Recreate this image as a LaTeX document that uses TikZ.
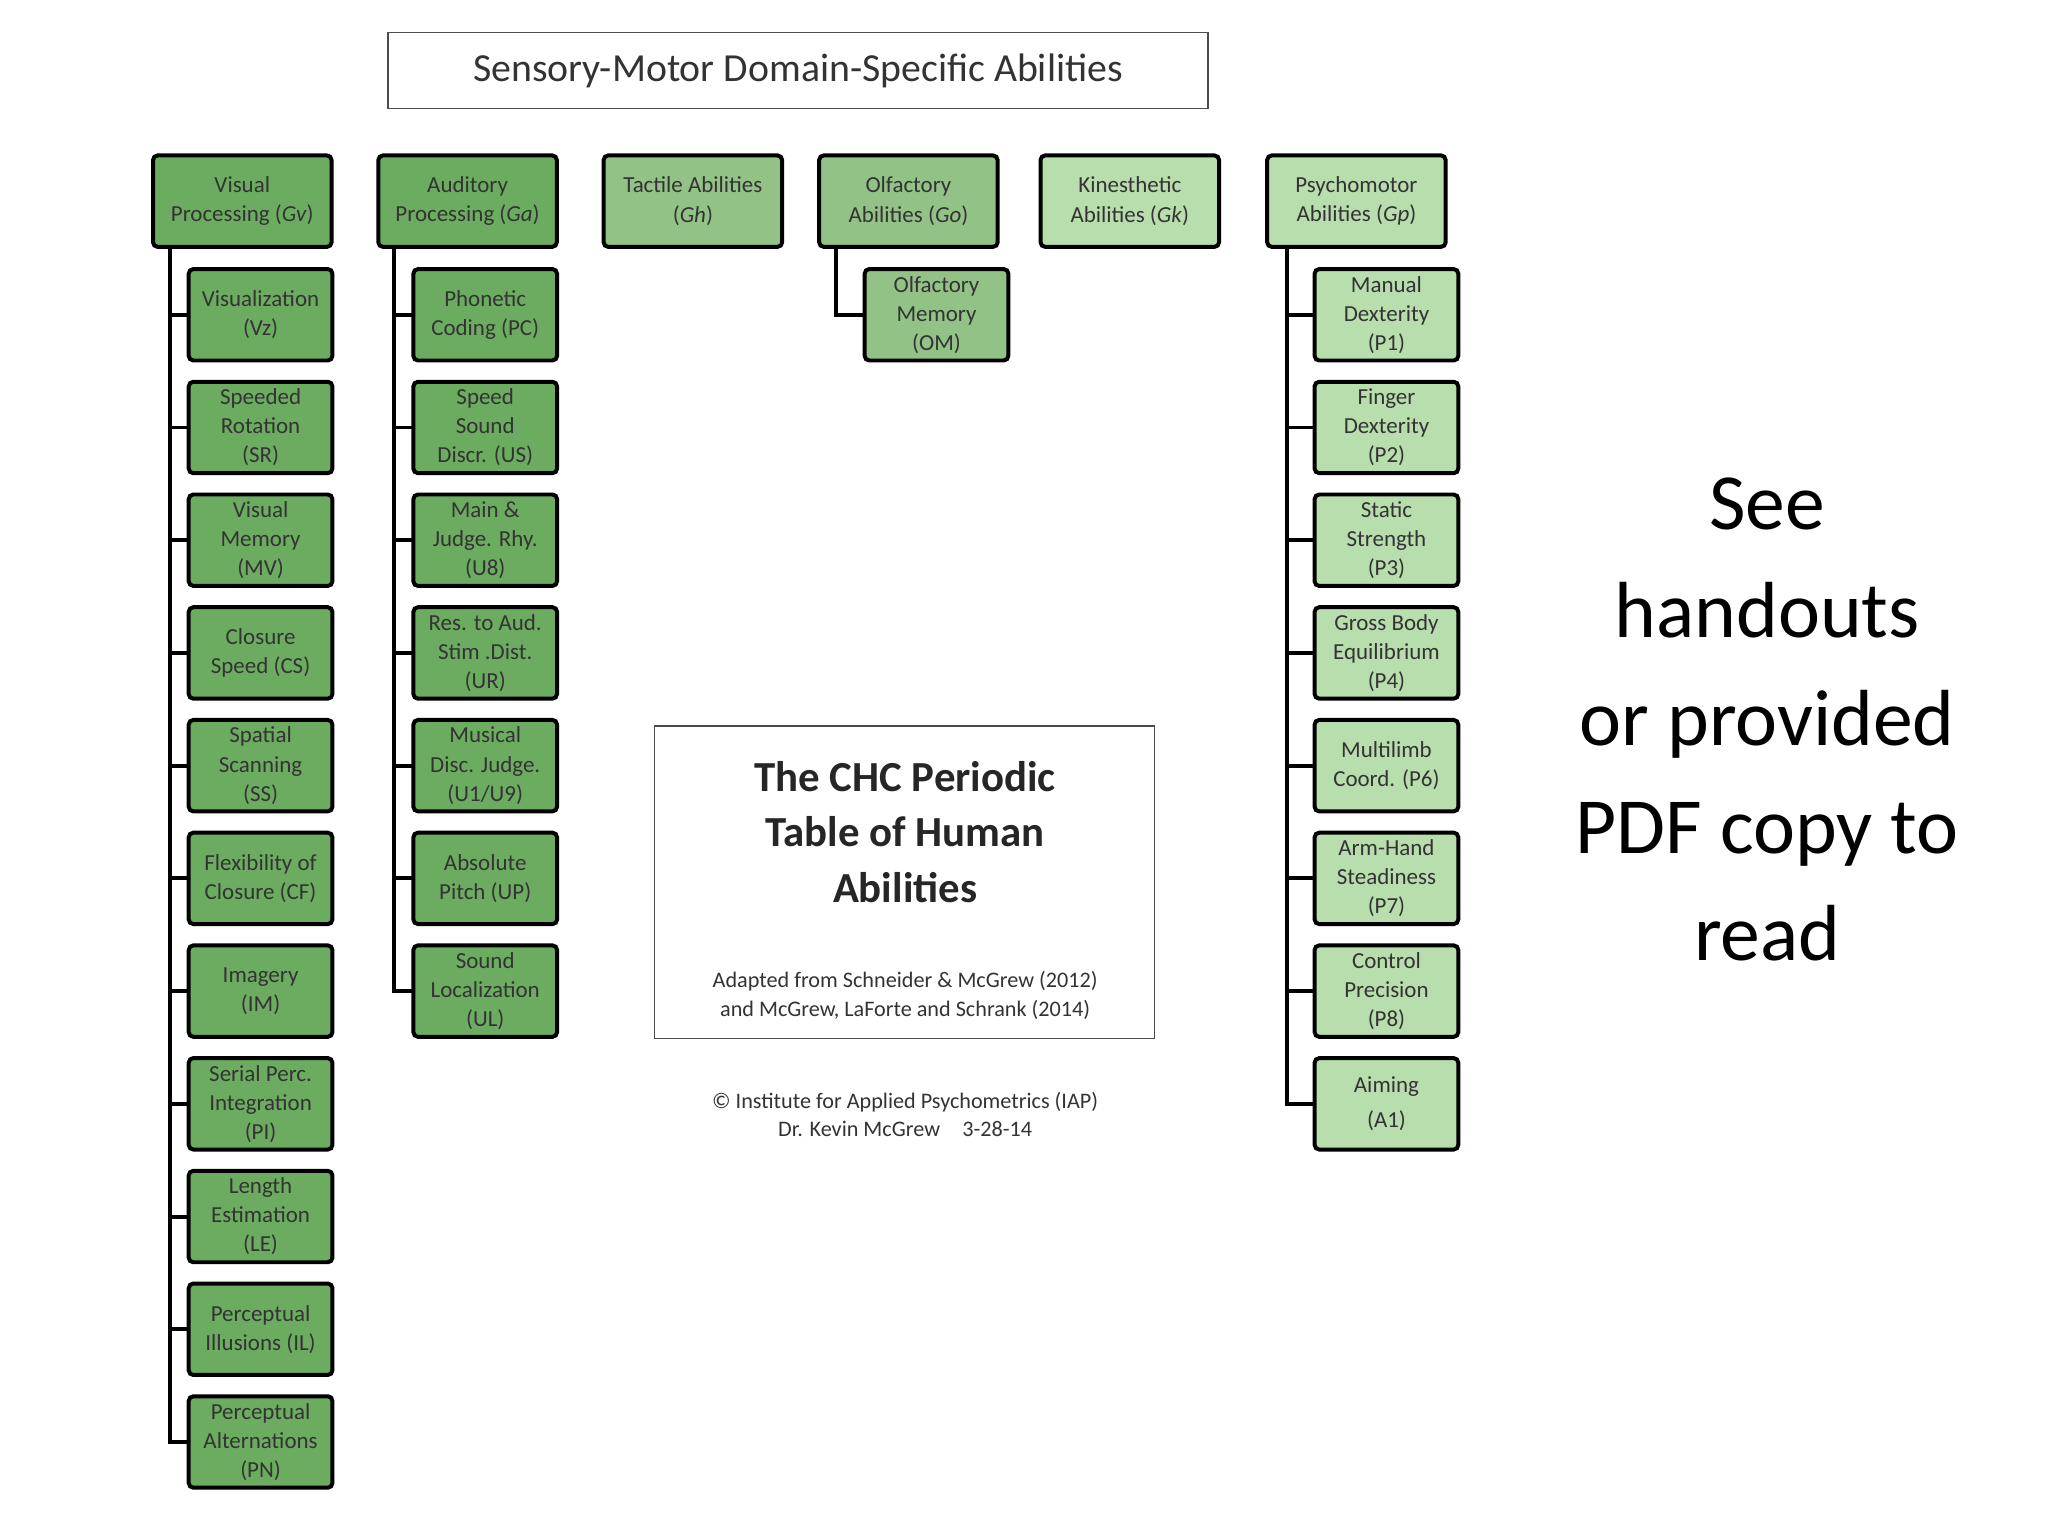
\documentclass[tikz,border=0pt]{standalone}
\usepackage{fontspec}
\setmainfont{Carlito}
\begin{document}
\begin{tikzpicture}[x=0.03cm,y=-0.03cm,
  bx/.style={draw=black,line width=2.6pt,rounded corners=3pt,align=center,font=\fontsize{15}{19}\selectfont,inner sep=1pt,text=black!80},
  topb/.style={bx,minimum width=4.1cm,minimum height=2.1cm},
  subb/.style={bx,minimum width=3.3cm,minimum height=2.1cm},
  dk/.style={fill=green!45!black!55!white},
  md/.style={fill=green!35!black!35!white},
  lt/.style={fill=green!30!black!20!white},
  tr/.style={line width=2.6pt,line cap=rect}]
\useasboundingbox (0,0) rectangle (1568,1176);
\definecolor{dkg}{RGB}{108,172,96}
\definecolor{mdg}{RGB}{146,194,134}
\definecolor{ltg}{RGB}{184,222,174}
\tikzset{dk/.style={fill=dkg},md/.style={fill=mdg},lt/.style={fill=ltg}}
\node[draw=black!70,line width=1pt,minimum width=18.84cm,minimum height=1.74cm,font=\fontsize{26}{30}\selectfont,text=black!80] (title) at (611,54) {Sensory-Motor Domain-Specific Abilities};
\node[topb,dk] (gv) at (185.5,154) {Visual\\Processing (\textit{Gv})};
\node[topb,dk] (ga) at (358,154) {Auditory\\Processing (\textit{Ga})};
\node[topb,md] (gh) at (530.5,154) {Tactile Abilities\\(\textit{Gh})};
\node[topb,md] (go) at (695.5,154) {Olfactory\\Abilities (\textit{Go})};
\node[topb,lt] (gk) at (865,154) {Kinesthetic\\Abilities (\textit{Gk})};
\node[topb,lt] (gp) at (1038.5,154) {Psychomotor\\Abilities (\textit{Gp})};
% Gv children
\foreach \t [count=\i] in {{Visualization\\(Vz)},{Speeded\\Rotation\\(SR)},{Visual\\Memory\\(MV)},{Closure\\Speed (CS)},{Spatial\\Scanning\\(SS)},{Flexibility of\\Closure (CF)},{Imagery\\(IM)},{Serial Perc.\\Integration\\(PI)},{Length\\Estimation\\(LE)},{Perceptual\\Illusions (IL)},{Perceptual\\Alternations\\(PN)}}{
  \node[subb,dk] (v\i) at (199.5,{241+86.3*(\i-1)}) {\t};
  \draw[tr] (130,189) |- (v\i.west);
}
\foreach \t [count=\i] in {{Phonetic\\Coding (PC)},{Speed\\Sound\\Discr. (US)},{Main \&\\Judge. Rhy.\\(U8)},{Res. to Aud.\\Stim .Dist.\\(UR)},{Musical\\Disc. Judge.\\(U1/U9)},{Absolute\\Pitch (UP)},{Sound\\Localization\\(UL)}}{
  \node[subb,dk] (a\i) at (371.5,{241+86.3*(\i-1)}) {\t};
  \draw[tr] (302,189) |- (a\i.west);
}
\node[subb,md] (om) at (717,241) {Olfactory\\Memory\\(OM)};
\draw[tr] (640,189) |- (om.west);
\foreach \t [count=\i] in {{Manual\\Dexterity\\(P1)},{Finger\\Dexterity\\(P2)},{Static\\Strength\\(P3)},{Gross Body\\Equilibrium\\(P4)},{Multilimb\\Coord. (P6)},{Arm-Hand\\Steadiness\\(P7)},{Control\\Precision\\(P8)},{Aiming\\[4pt](A1)}}{
  \node[subb,lt] (p\i) at (1061.5,{241+86.3*(\i-1)}) {\t};
  \draw[tr] (985,189) |- (p\i.west);
}
\node[draw=black!70,line width=1pt,minimum width=11.49cm,minimum height=7.17cm] (chc) at (692.5,675.5) {};
\node[align=center,font=\bfseries\fontsize{28}{36.5}\selectfont,text=black!85] (chct) at (693,637) {The CHC Periodic\\Table of Human\\Abilities};
\node[align=center,font=\fontsize{14.5}{18.5}\selectfont,text=black!80] (adp) at (693,762) {Adapted from Schneider \& McGrew (2012)\\and McGrew, LaForte and Schrank (2014)};
\node[align=center,font=\fontsize{14.5}{18.5}\selectfont,text=black!80] (cp) at (693,853) {© Institute for Applied Psychometrics (IAP)\\Dr. Kevin McGrew\quad 3-28-14};
\node[align=center,font=\fontsize{52}{70.5}\selectfont] (see) at (1353,551) {See\\handouts\\or provided\\PDF copy to\\read};
\end{tikzpicture}
\end{document}
